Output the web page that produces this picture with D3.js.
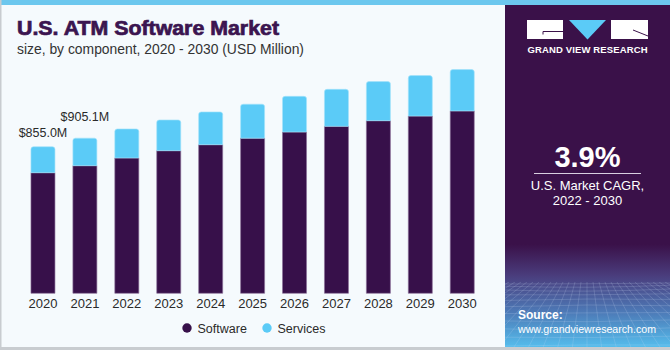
<!DOCTYPE html>
<html>
<head>
<meta charset="utf-8">
<script src="https://cdn.jsdelivr.net/npm/d3@7"></script>
<style>
  html, body { margin: 0; padding: 0; background: #fff; }
  svg { display: block; font-family: "Liberation Sans", Arial, sans-serif; }
</style>
</head>
<body>
<div id="chart"></div>
<script>
const years = ["2020", "2021", "2022", "2023", "2024", "2025", "2026", "2027", "2028", "2029", "2030"];
const software = [703.6, 744.5, 789.4, 832, 867, 905, 941, 974, 1007, 1034, 1064];
const services = [151.4, 160.6, 169.2, 179, 191, 198, 208, 216, 228, 236, 241];
const labels = ["$855.0M", "$905.1M"];
const seriesNames = ["Software", "Services"];
const colors = ["#37104a", "#5bcbf7"];

const W = 670, H = 350;
const svg = d3.select("#chart").append("svg")
  .attr("width", W).attr("height", H);

const defs = svg.append("defs");
const grad = defs.append("linearGradient")
  .attr("id", "panelGrad").attr("x1", 0).attr("y1", 0).attr("x2", 0).attr("y2", 1);
grad.append("stop").attr("offset", "0%").attr("stop-color", "#3a1149");
grad.append("stop").attr("offset", "70%").attr("stop-color", "#3a1149");
grad.append("stop").attr("offset", "79%").attr("stop-color", "#4a3c7c");
grad.append("stop").attr("offset", "90%").attr("stop-color", "#4d7bb8");
grad.append("stop").attr("offset", "100%").attr("stop-color", "#55bdec");
defs.append("clipPath").attr("id", "gridClip")
  .append("rect").attr("x", 505).attr("y", 282).attr("width", 165).attr("height", 65);

// background and frame
svg.append("rect").attr("width", W).attr("height", H).attr("fill", "#f5fafd");
svg.append("rect").attr("x", 0).attr("y", 0).attr("width", W).attr("height", 5).attr("fill", "#6cc7ee");
svg.append("rect").attr("x", 0).attr("y", 0).attr("width", 1.5).attr("height", H).attr("fill", "#c8ccd0");
svg.append("rect").attr("x", 0).attr("y", 347).attr("width", W).attr("height", 3).attr("fill", "#c8ccd0");

// right panel
svg.append("rect").attr("x", 505).attr("y", 5).attr("width", 165).attr("height", 342)
  .attr("fill", "url(#panelGrad)");

// wireframe in the panel
const grid = svg.append("g").attr("clip-path", "url(#gridClip)")
  .attr("stroke", "#c9dcf5").attr("stroke-opacity", 0.28).attr("stroke-width", 0.7).attr("fill", "none");
for (let i = 0; i < 14; i++) {
  const yy = 284 + Math.pow(i, 1.45) * 2.2;
  grid.append("path").attr("d", `M505,${yy} Q587,${yy + 3 * Math.sin(i)} 670,${yy - 1}`);
}
for (let i = -20; i <= 20; i++) {
  const x0 = 587 + i * 6, x1 = 587 + i * 15;
  grid.append("line").attr("x1", x0).attr("y1", 282).attr("x2", x1).attr("y2", 350);
}

// logo
const logo = svg.append("g");
logo.append("rect").attr("x", 527).attr("y", 20).attr("width", 36).attr("height", 19).attr("fill", "#fff");
logo.append("path").attr("d", "M543,34.5 V31.5 H563").attr("stroke", "#3a1149").attr("stroke-width", 1).attr("fill", "none");
logo.append("path").attr("d", "M569,20 H606 L587.5,39.5 Z").attr("fill", "#5bcbf7");
logo.append("rect").attr("x", 611).attr("y", 20).attr("width", 37).attr("height", 19).attr("fill", "#fff");
logo.append("path").attr("d", "M633,30 L648,36").attr("stroke", "#3a1149").attr("stroke-width", 1);
logo.append("text").attr("x", 587.5).attr("y", 53).attr("text-anchor", "middle")
  .attr("fill", "#fff").attr("font-size", 9.5).attr("font-weight", "bold")
  .attr("textLength", 120).attr("lengthAdjust", "spacing")
  .text("GRAND VIEW RESEARCH");

// CAGR block
svg.append("text").attr("x", 587.5).attr("y", 166.5).attr("text-anchor", "middle")
  .attr("fill", "#fff").attr("font-size", 29).attr("font-weight", "bold").text("3.9%");
svg.append("line").attr("x1", 534).attr("x2", 641).attr("y1", 173.5).attr("y2", 173.5)
  .attr("stroke", "#d8cfe0").attr("stroke-width", 1.2);
svg.append("text").attr("x", 587.5).attr("y", 189.5).attr("text-anchor", "middle")
  .attr("fill", "#fff").attr("font-size", 13).text("U.S. Market CAGR,");
svg.append("text").attr("x", 587.5).attr("y", 204.5).attr("text-anchor", "middle")
  .attr("fill", "#fff").attr("font-size", 13).text("2022 - 2030");

// source
svg.append("text").attr("x", 518).attr("y", 319).attr("fill", "#fff")
  .attr("font-size", 12).attr("font-weight", "bold").text("Source:");
svg.append("text").attr("x", 518).attr("y", 333).attr("fill", "#fff")
  .attr("font-size", 10.5).attr("textLength", 138).attr("lengthAdjust", "spacingAndGlyphs")
  .text("www.grandviewresearch.com");

// titles
svg.append("text").attr("x", 17).attr("y", 35).attr("fill", "#3b1550")
  .attr("font-size", 19.5).attr("font-weight", "bold")
  .attr("stroke", "#3b1550").attr("stroke-width", 0.7)
  .attr("textLength", 262).attr("lengthAdjust", "spacingAndGlyphs")
  .text("U.S. ATM Software Market");
svg.append("text").attr("x", 17).attr("y", 54).attr("fill", "#333")
  .attr("font-size", 14.5).attr("textLength", 287).attr("lengthAdjust", "spacingAndGlyphs")
  .text("size, by component, 2020 - 2030 (USD Million)");

// scales
const x = d3.scaleBand().domain(years).range([22, 483.2])
  .paddingInner(0.4276).paddingOuter(0.2138);
const y = d3.scaleLinear().domain([0, 1400]).range([293.3, 53.3]);

const rows = years.map((yr, i) => ({ year: yr, Software: software[i], Services: services[i] }));
const stacked = d3.stack().keys(seriesNames)(rows);

const bars = svg.append("g");
stacked.forEach((layer, k) => {
  bars.append("g").selectAll("path")
    .data(layer)
    .join("path")
    .attr("d", (d) => {
      const x0 = x(d.data.year), w = x.bandwidth();
      const yTop = y(d[1]), yBot = y(d[0]);
      const r = k === 1 ? 2.5 : 0;
      return `M${x0},${yBot} V${yTop + r} Q${x0},${yTop} ${x0 + r},${yTop} H${x0 + w - r} Q${x0 + w},${yTop} ${x0 + w},${yTop + r} V${yBot} Z`;
    })
    .attr("fill", colors[k])
    .attr("stroke", k === 0 ? "#8a7099" : "#a4e2fb")
    .attr("stroke-width", 0.8)
    .attr("stroke-opacity", 0.8);
});

// value labels for first two years
labels.forEach((lab, i) => {
  const total = software[i] + services[i];
  svg.append("text")
    .attr("x", x(years[i]) + x.bandwidth() / 2)
    .attr("y", y(total) - (i === 0 ? 10 : 17.5))
    .attr("text-anchor", "middle")
    .attr("fill", "#2a2a2a").attr("font-size", 12.5)
    .text(lab);
});

// x axis
const xAxis = svg.append("g").attr("transform", `translate(0,${y(0)})`)
  .call(d3.axisBottom(x).tickSize(0).tickPadding(5));
xAxis.select(".domain").remove();
xAxis.selectAll("text").attr("font-size", 13).attr("fill", "#2a2a2a")
  .attr("font-family", "'Liberation Sans', Arial, sans-serif");

// legend
const legend = svg.append("g");
const legendX = [187, 267];
seriesNames.forEach((name, i) => {
  legend.append("circle").attr("cx", legendX[i]).attr("cy", 328).attr("r", 4.7).attr("fill", colors[i]);
  legend.append("text").attr("x", legendX[i] + 10.5).attr("y", 332.5)
    .attr("font-size", 12.5).attr("fill", "#2a2a2a").text(name);
});
</script>
</body>
</html>
